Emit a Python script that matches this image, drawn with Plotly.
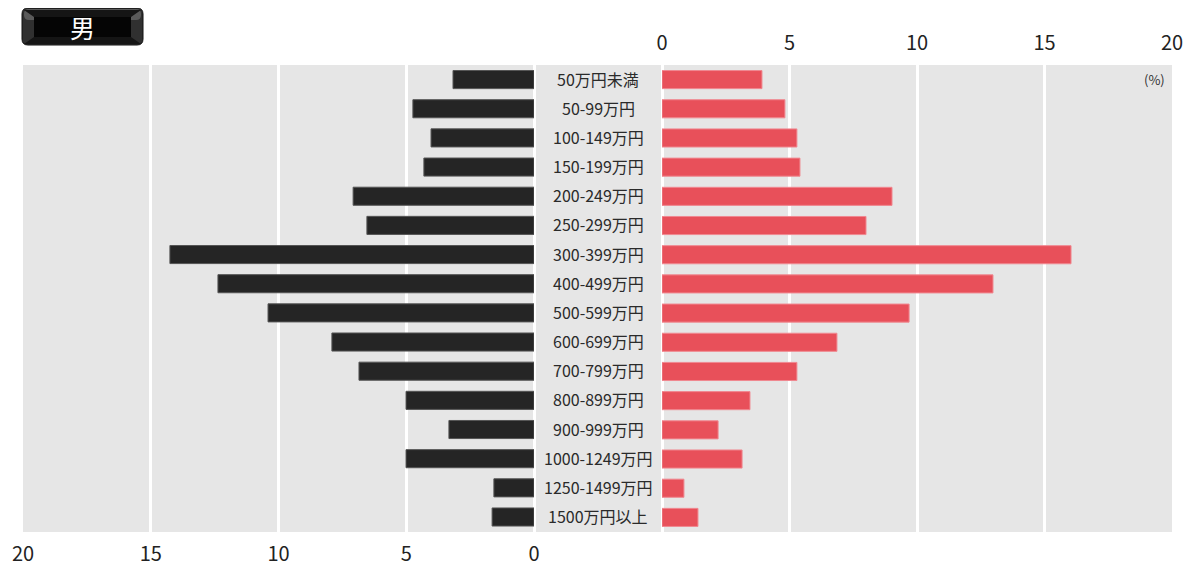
import plotly.graph_objects as go
from plotly.subplots import make_subplots

categories = [
    "50万円未満", "50-99万円", "100-149万円", "150-199万円",
    "200-249万円", "250-299万円", "300-399万円", "400-499万円",
    "500-599万円", "600-699万円", "700-799万円", "800-899万円",
    "900-999万円", "1000-1249万円", "1250-1499万円", "1500万円以上",
]
left_values = [3.17, 4.74, 4.03, 4.31, 7.08, 6.54, 14.25, 12.37,
               10.41, 7.91, 6.85, 5.01, 3.33, 5.01, 1.57, 1.64]
right_values = [3.92, 4.82, 5.29, 5.41, 9.02, 8.0, 16.04, 12.98,
                9.69, 6.86, 5.29, 3.45, 2.2, 3.14, 0.86, 1.41]
tick_vals = [0, 5, 10, 15, 20]

BG = "#e6e6e6"
FONT = "Noto Sans CJK JP"

# page body has an 8px margin, so everything is placed 8px up/left
OFF = 8
W, H = 1197 - OFF, 568 - OFF
ml, mt = 23 - OFF, 65 - OFF
mr = W - (1172 - OFF)
mb = H - (532 - OFF)
pw = W - ml - mr
ph = H - mt - mb
left_end = (534 - 23) / pw
right_start = (662 - 23) / pw

fig = make_subplots(rows=1, cols=2, horizontal_spacing=right_start - left_end)

fig.add_trace(go.Bar(
    y=categories, x=left_values, orientation="h",
    marker=dict(color="#252525", line=dict(color="#555555", width=1)),
    width=0.62, hoverinfo="x+y",
), row=1, col=1)

fig.add_trace(go.Bar(
    y=categories, x=right_values, orientation="h",
    marker=dict(color="#e8505a", line=dict(color="#f08890", width=1)),
    width=0.62, hoverinfo="x+y",
), row=1, col=2)

axis_common = dict(
    tickvals=tick_vals, showgrid=True, gridcolor="white", gridwidth=3,
    zeroline=True, zerolinecolor="white", zerolinewidth=3,
    ticks="", tickfont=dict(size=20, color="#222", family=FONT),
    showline=False, fixedrange=True, automargin=False,
)
fig.update_xaxes(range=[20, 0], side="bottom", domain=[0, left_end],
                 ticklabelstandoff=8, **axis_common, row=1, col=1)
fig.update_xaxes(range=[0, 20], side="top", domain=[right_start, 1],
                 ticklabelstandoff=10, **axis_common, row=1, col=2)
fig.update_yaxes(autorange="reversed", showticklabels=False, showgrid=False,
                 zeroline=False, ticks="", fixedrange=True, automargin=False)

# category labels in the middle gap
for c in categories:
    fig.add_annotation(x=(left_end + right_start) / 2, xref="paper",
                       y=c, yref="y", text=c, showarrow=False,
                       xanchor="center", yanchor="middle", yshift=1,
                       font=dict(size=16, color="#2a2a2a", family=FONT))

# grey panel spanning the middle gap
fig.add_shape(type="rect", xref="paper", yref="paper", x0=0, x1=1, y0=0, y1=1,
              fillcolor=BG, line_width=0, layer="below")


# title badge (pixel helpers relative to the page)
def px(x):
    return (x - 23) / pw


def py(y):
    return 1 + (65 - y) / ph


def rounded(xa, ya, xb, yb, r):
    return (f"M {px(xa + r)},{py(ya)} L {px(xb - r)},{py(ya)} "
            f"Q {px(xb)},{py(ya)} {px(xb)},{py(ya + r)} "
            f"L {px(xb)},{py(yb - r)} Q {px(xb)},{py(yb)} {px(xb - r)},{py(yb)} "
            f"L {px(xa + r)},{py(yb)} Q {px(xa)},{py(yb)} {px(xa)},{py(yb - r)} "
            f"L {px(xa)},{py(ya + r)} Q {px(xa)},{py(ya)} {px(xa + r)},{py(ya)} Z")


fig.add_shape(type="path", xref="paper", yref="paper",
              path=rounded(22, 8, 143, 45, 6),
              fillcolor="#303030", line=dict(color="#111111", width=1))
fig.add_shape(type="path", xref="paper", yref="paper",
              path=rounded(24, 9, 141, 20, 5),
              fillcolor="#5a5a5a", line_width=0)
fig.add_shape(type="path", xref="paper", yref="paper",
              path=(f"M {px(24)},{py(10)} L {px(141)},{py(10)} L {px(131)},{py(17)} "
                    f"L {px(131)},{py(37)} L {px(141)},{py(44)} L {px(24)},{py(44)} "
                    f"L {px(34)},{py(37)} L {px(34)},{py(17)} Z"),
              fillcolor="#151515", line_width=0)
fig.add_shape(type="rect", xref="paper", yref="paper",
              x0=px(34), x1=px(131), y0=py(37), y1=py(17),
              fillcolor="#050505", line_width=0)
fig.add_annotation(x=px(82.5), y=py(27), xref="paper", yref="paper",
                   xanchor="center", yanchor="middle",
                   text="男", showarrow=False,
                   font=dict(size=25, color="white", family=FONT))

fig.add_annotation(x=1, y=1, xref="paper", yref="paper", xanchor="right",
                   yanchor="top", xshift=-5, yshift=-3, text="(%)", showarrow=False,
                   font=dict(size=13, color="#333", family=FONT))

fig.update_layout(
    width=W, height=H,
    margin=dict(l=ml, r=mr, t=mt, b=mb, autoexpand=False),
    plot_bgcolor=BG, paper_bgcolor="white",
    showlegend=False,
    font=dict(family=FONT),
)

fig.write_html("out.html")
